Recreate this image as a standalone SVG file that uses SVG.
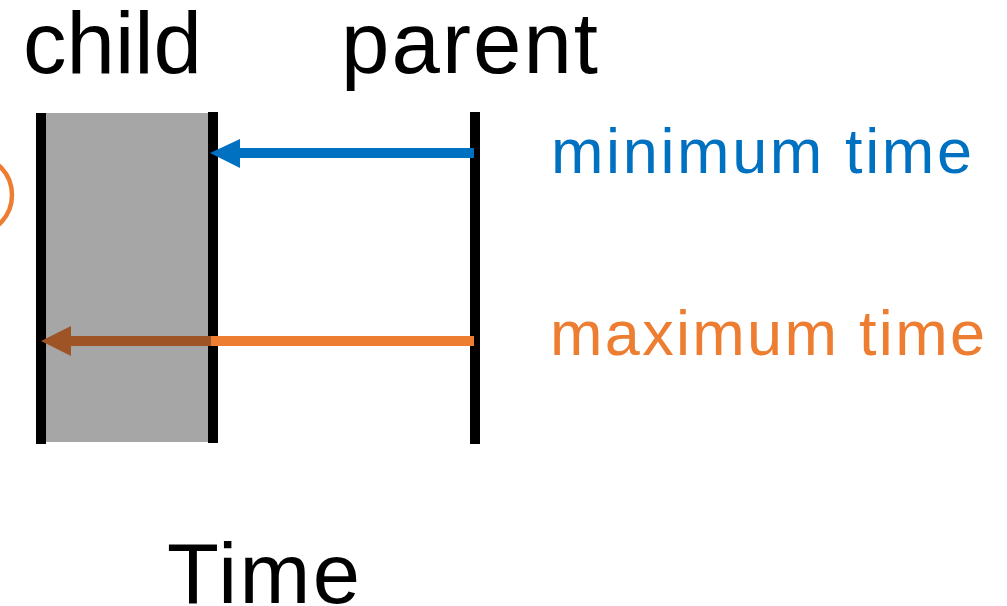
<svg xmlns="http://www.w3.org/2000/svg" width="1007" height="606" viewBox="0 0 1007 606">
<style>
.lbl{font-family:"Liberation Sans",Arial,sans-serif;}
.bar{stroke:#000;stroke-width:10;}
</style>
<rect x="0" y="0" width="1007" height="606" fill="#fff"/>
<g id="child">
<rect x="41" y="113" width="172" height="329" fill="#A6A6A6"/>
<line class="bar" x1="41" y1="113" x2="41" y2="444"/>
<line class="bar" x1="213" y1="112" x2="213" y2="443"/>
<text class="lbl" x="23" y="73" font-size="87" fill="#000">child</text>
</g>
<g id="parent">
<line class="bar" x1="475" y1="112" x2="475" y2="444"/>
<text class="lbl" x="341" y="73" font-size="87" fill="#000" textLength="257" lengthAdjust="spacing">parent</text>
</g>
<g id="arc">
<ellipse cx="-24" cy="195" rx="36" ry="38" fill="none" stroke="#ED7D31" stroke-width="4.5"/>
</g>
<g id="connectors">
<line x1="474" y1="153" x2="238" y2="153" stroke="#0070C0" stroke-width="10"/>
<polygon points="210,153 240,139 240,168" fill="#0070C0"/>
<line x1="474" y1="341" x2="211" y2="341" stroke="#ED7D31" stroke-width="10"/>
<line x1="211" y1="341" x2="69" y2="341" stroke="#9E5424" stroke-width="10"/>
<polygon points="41,341 71,326 71,356" fill="#9E5424"/>
</g>
<g id="minimum">
<text class="lbl" x="551" y="173" font-size="63" fill="#0070C0" textLength="421" lengthAdjust="spacing">minimum time</text>
</g>
<g id="maximum">
<text class="lbl" x="550" y="355" font-size="63" fill="#ED7D31" textLength="435" lengthAdjust="spacing">maximum time</text>
</g>
<g id="time">
<text class="lbl" x="167" y="603" font-size="85" fill="#000" textLength="193" lengthAdjust="spacing">Time</text>
</g>
</svg>
